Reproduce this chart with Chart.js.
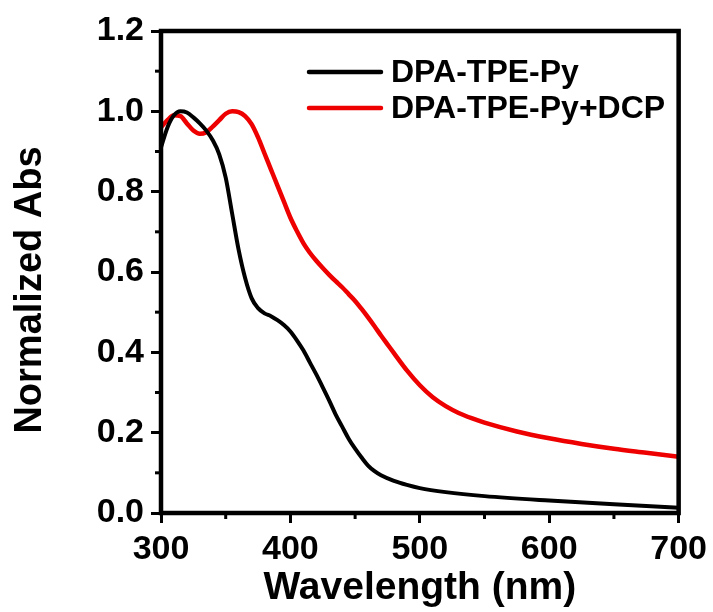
<!DOCTYPE html>
<html lang="en">

<head>
    <meta charset="UTF-8">
    <script src="https://cdn.jsdelivr.net/npm/chart.js@4.4.1/dist/chart.umd.min.js"></script>
    <title>Normalized Abs</title>
    <style>
        body { margin: 0; background: #fff; }
    </style>
</head>

<body>
    <canvas id="chart" width="713" height="612"></canvas>

    <script>
        // spectra
        const blackNm = [300, 305, 310, 315, 320, 325, 330, 335, 340, 345, 350, 355, 360, 365, 370, 375, 380, 385, 390, 395,
            400, 405, 410, 415, 420, 425, 430, 435, 440, 445, 450, 455, 460, 465, 470, 480, 490, 500, 520, 550, 600, 650, 700]
        const blackAbs = [0.91, 0.96, 0.99, 1.0, 0.997, 0.985, 0.97, 0.952, 0.928, 0.893, 0.835, 0.745, 0.655, 0.585, 0.535, 0.51, 0.497, 0.49, 0.48, 0.468,
            0.452, 0.43, 0.405, 0.375, 0.345, 0.313, 0.28, 0.245, 0.215, 0.185, 0.16, 0.138, 0.118, 0.104, 0.094, 0.08, 0.07, 0.062, 0.052, 0.042, 0.031, 0.022, 0.013]

        const redNm = [300, 305, 310, 315, 320, 325, 330, 335, 340, 345, 350, 355, 360, 365, 370, 375, 380, 385, 390, 395,
            400, 405, 410, 415, 420, 425, 430, 435, 440, 445, 450, 455, 460, 465, 470, 475, 480, 490, 500, 510, 520, 530, 540, 550,
            575, 600, 625, 650, 675, 700]
        const redAbs = [0.96, 0.978, 0.99, 0.988, 0.97, 0.952, 0.944, 0.948, 0.962, 0.978, 0.994, 1.0, 0.998, 0.988, 0.968, 0.935, 0.895, 0.855, 0.815, 0.775,
            0.735, 0.702, 0.672, 0.648, 0.628, 0.61, 0.593, 0.577, 0.562, 0.545, 0.528, 0.508, 0.487, 0.465, 0.442, 0.42, 0.398, 0.355, 0.318, 0.288, 0.266, 0.249, 0.236, 0.225,
            0.203, 0.186, 0.172, 0.16, 0.15, 0.14]

        const seriesNames = ["DPA-TPE-Py", "DPA-TPE-Py+DCP"]
        const seriesColors = ["#000000", "#ee0000"]
        const yTitle = "Normalized Abs"

        const xMin = 300, xMax = 700, xMajor = 100, xMinor = 50
        const yMin = 0, yMax = 1.2, yMajor = 0.2, yMinor = 0.1

        const fontFamily = "'Liberation Sans', Arial, sans-serif"

        function toPoints(xs, ys) {
            return xs.map((x, i) => ({ x: x, y: ys[i] }))
        }

        const isMajor = (v, step) => Math.abs(v / step - Math.round(v / step)) < 1e-6

        // frame, short minor ticks, y title and the legend inside the plot
        const framePlugin = {
            id: "frame",
            afterDraw(chart) {
                const c = chart.ctx
                const a = chart.chartArea
                c.save()
                c.strokeStyle = "#000"
                c.lineWidth = 4.5
                c.strokeRect(a.left, a.top, a.right - a.left, a.bottom - a.top)

                c.lineWidth = 3
                chart.scales.x.ticks.forEach(t => {
                    if (isMajor(t.value, xMajor)) return
                    const px = chart.scales.x.getPixelForValue(t.value)
                    c.beginPath()
                    c.moveTo(px, a.bottom)
                    c.lineTo(px, a.bottom + 6)
                    c.stroke()
                })
                chart.scales.y.ticks.forEach(t => {
                    if (isMajor(t.value, yMajor)) return
                    const py = chart.scales.y.getPixelForValue(t.value)
                    c.beginPath()
                    c.moveTo(a.left, py)
                    c.lineTo(a.left - 6, py)
                    c.stroke()
                })

                // y axis title, sits a bit below the middle of the axis in the original
                c.save()
                c.translate(31, 290)
                c.rotate(-Math.PI / 2)
                c.font = "bold 38px " + fontFamily
                c.textAlign = "center"
                c.textBaseline = "middle"
                c.fillStyle = "#000"
                c.fillText(yTitle, 0, 0)
                c.restore()

                // legend
                c.font = "bold 32px " + fontFamily
                c.textBaseline = "middle"
                c.fillStyle = "#000"
                chart.data.datasets.forEach((ds, i) => {
                    const y = 72 + i * 36
                    c.strokeStyle = ds.borderColor
                    c.lineWidth = 4.5
                    c.lineCap = "round"
                    c.beginPath()
                    c.moveTo(309, y)
                    c.lineTo(381, y)
                    c.stroke()
                    c.fillText(ds.label, 391, y + 1)
                })
                c.restore()
            }
        }

        const ctx = document.getElementById("chart").getContext("2d")
        const myChart = new Chart(ctx, {
            type: "line",
            data: {
                datasets: [{
                    label: seriesNames[0],
                    data: toPoints(blackNm, blackAbs),
                    borderColor: seriesColors[0],
                    borderWidth: 4,
                    pointRadius: 0,
                    cubicInterpolationMode: "monotone",
                    fill: false
                }, {
                    label: seriesNames[1],
                    data: toPoints(redNm, redAbs),
                    borderColor: seriesColors[1],
                    borderWidth: 4.5,
                    pointRadius: 0,
                    cubicInterpolationMode: "monotone",
                    fill: false
                }]
            },
            options: {
                responsive: false,
                animation: false,
                layout: { padding: { left: 0, right: 33, top: 31, bottom: 0 } },
                plugins: {
                    legend: { display: false },
                    tooltip: { enabled: false }
                },
                scales: {
                    x: {
                        type: "linear",
                        min: xMin,
                        max: xMax,
                        afterFit: s => { s.height = 99 },
                        border: { display: false },
                        grid: {
                            drawOnChartArea: false,
                            drawTicks: true,
                            tickLength: 10,
                            tickWidth: 3,
                            tickColor: c => isMajor(c.tick.value, xMajor) ? "#000" : "rgba(0,0,0,0)"
                        },
                        ticks: {
                            stepSize: xMinor,
                            padding: 6,
                            color: "#000",
                            maxRotation: 0,
                            autoSkip: false,
                            font: { family: fontFamily, size: 34, weight: "bold" },
                            callback: v => isMajor(v, xMajor) ? v : ""
                        },
                        title: {
                            display: true,
                            text: "Wavelength (nm)",
                            color: "#000",
                            font: { family: fontFamily, size: 39, weight: "bold" },
                            padding: { top: 0, bottom: 0 }
                        }
                    },
                    y: {
                        min: yMin,
                        max: yMax,
                        afterFit: s => { s.width = 161 },
                        border: { display: false },
                        grid: {
                            drawOnChartArea: false,
                            drawTicks: true,
                            tickLength: 10,
                            tickWidth: 3,
                            tickColor: c => isMajor(c.tick.value, yMajor) ? "#000" : "rgba(0,0,0,0)"
                        },
                        ticks: {
                            stepSize: yMinor,
                            padding: 7,
                            color: "#000",
                            autoSkip: false,
                            font: { family: fontFamily, size: 34, weight: "bold" },
                            callback: v => isMajor(v, yMajor) ? v.toFixed(1) : ""
                        },
                        title: { display: false }
                    }
                }
            },
            plugins: [framePlugin]
        })
    </script>
</body>

</html>
